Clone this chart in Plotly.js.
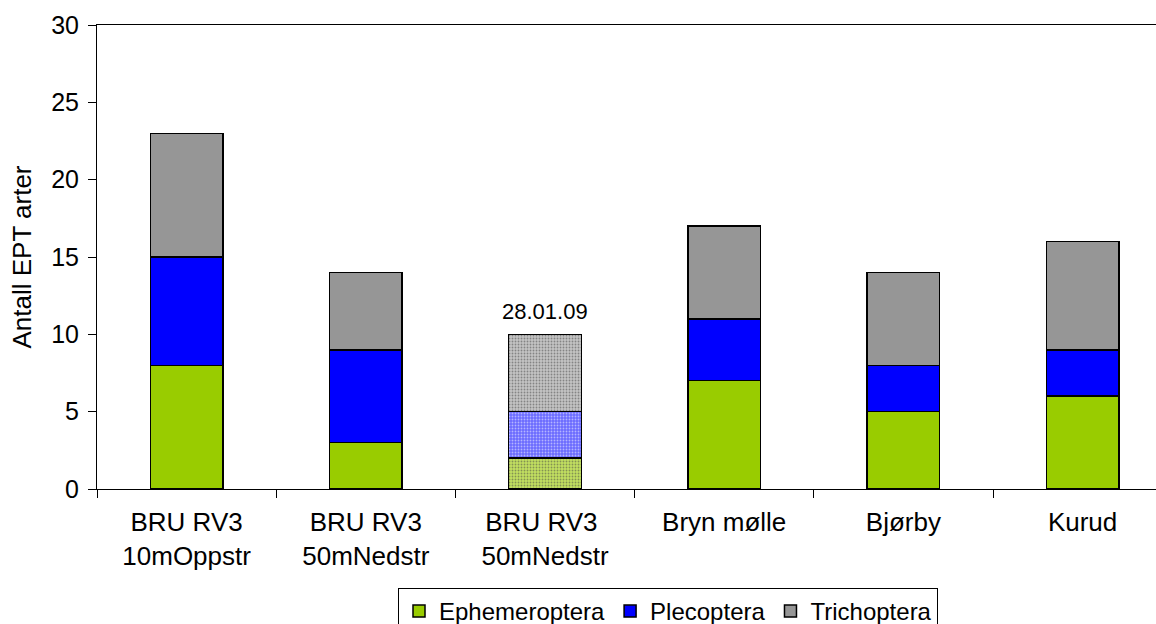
<!DOCTYPE html>
<html><head><meta charset="utf-8">
<script src="https://cdn.plot.ly/plotly-3.0.1.min.js"></script>
<style>html,body{margin:0;padding:0;overflow:hidden;background:#fff}#chart{width:1156px;height:624px}</style>
</head><body><div id="chart"></div>
<script>
const categories = ["BRU RV3<br>10mOppstr", "BRU RV3<br>50mNedstr", "BRU RV3 <br>50mNedstr", "Bryn mølle", "Bjørby", "Kurud"];
const ephemeroptera = [8, 3, 2, 7, 5, 6];
const plecoptera = [7, 6, 3, 4, 3, 3];
const trichoptera = [8, 5, 5, 6, 6, 7];
const seriesNames = ["Ephemeroptera", "Plecoptera", "Trichoptera"];
const seriesColors = ["#99CC00", "#0000FF", "#969696"];
const lightColors = ["#c2e060", "#6a6aff", "#c4c4c4"];
const annotatedIndex = 2;
const annotationText = "28.01.09";

const seriesData = [ephemeroptera, plecoptera, trichoptera];
const traces = seriesData.map((vals, s) => ({
  type: "bar",
  name: seriesNames[s],
  x: categories,
  y: vals,
  width: 0.405,
  marker: {
    color: categories.map((c, i) => i === annotatedIndex ? lightColors[s] : seriesColors[s]),
    line: {color: "#000", width: 1.5},
    pattern: {
      shape: categories.map((c, i) => i === annotatedIndex ? "." : ""),
      fillmode: "overlay",
      fgcolor: "#ffffff",
      size: 3,
      solidity: 0.3
    }
  },
  hoverinfo: "y+name"
}));

const total = ephemeroptera[annotatedIndex] + plecoptera[annotatedIndex] + trichoptera[annotatedIndex];
const plotWidth = 1156 - 97;
const catPx = 179.2;

const layout = {
  width: 1156, height: 624,
  barmode: "stack",
  margin: {l: 97, r: 0, t: 25, b: 135, autoexpand: false},
  paper_bgcolor: "#fff", plot_bgcolor: "#fff",
  font: {family: "Liberation Sans, Arial, sans-serif", size: 25, color: "#000"},
  xaxis: {
    type: "category",
    range: [-0.5, -0.5 + plotWidth / catPx],
    tickson: "boundaries",
    ticks: "outside", ticklen: 8, tickcolor: "#000", tickwidth: 1,
    showline: true, linecolor: "#000", linewidth: 1,
    mirror: true,
    showgrid: false,
    tickfont: {size: 26},
    ticklabelstandoff: 10,
    automargin: false
  },
  yaxis: {
    range: [0, 30], dtick: 5,
    ticks: "outside", ticklen: 8, tickcolor: "#000", tickwidth: 1,
    showline: true, linecolor: "#000", linewidth: 1,
    showgrid: false, zeroline: false,
    tickfont: {size: 25},
    ticklabelstandoff: 4,
    title: {text: "Antall EPT arter", font: {size: 26}, standoff: 12},
    automargin: false
  },
  annotations: [{
    x: categories[annotatedIndex], y: total, xref: "x", yref: "y",
    text: annotationText, showarrow: false, yanchor: "bottom", yshift: 8,
    font: {size: 22}
  }],
  legend: {
    orientation: "h",
    x: (398 - 97) / plotWidth, xanchor: "left",
    y: (489 - 588) / 464, yanchor: "top",
    bordercolor: "#000", borderwidth: 1,
    font: {size: 24},
    itemwidth: 30,
    tracegroupgap: 0,
    traceorder: "normal"
  },
  showlegend: true
};

Plotly.newPlot("chart", traces, layout, {staticPlot: true, displayModeBar: false});
</script>
</body></html>
